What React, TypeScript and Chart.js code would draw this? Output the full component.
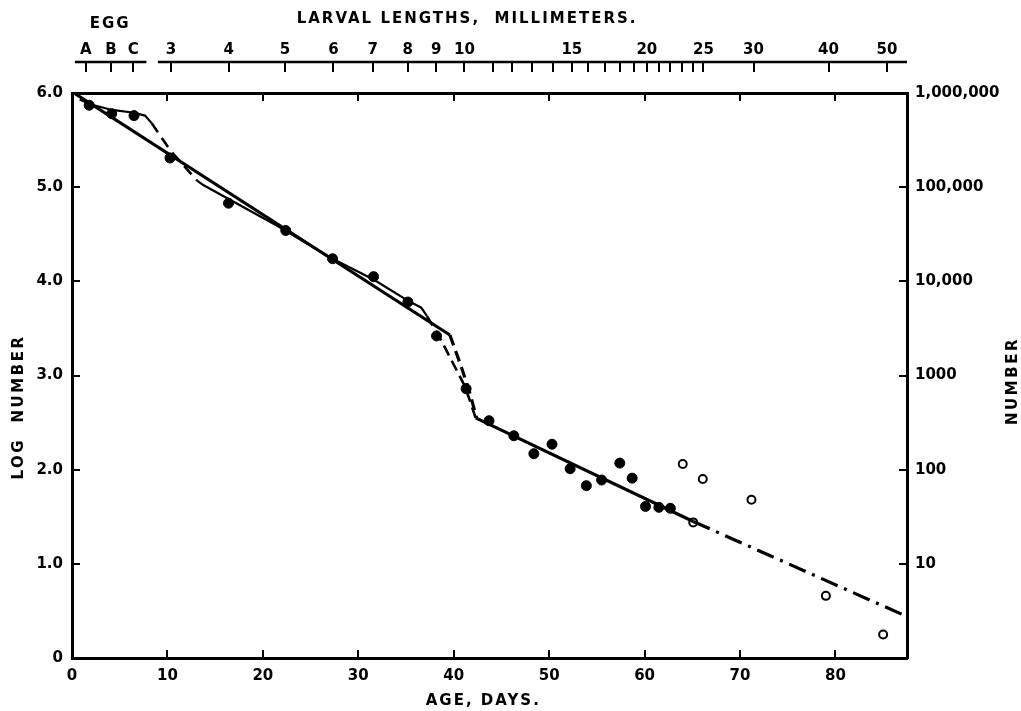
import React, { useEffect, useRef } from 'react';
import { Chart, registerables } from 'chart.js';

Chart.register(...registerables);

// ---------- data ----------
const X_MIN = 0;
const X_MAX = 87.5;
const dayTicks = [0, 10, 20, 30, 40, 50, 60, 70, 80];
const borderDayTicks = [10, 20, 30, 40, 50, 60, 70, 80];
const logTicks = [0, 1, 2, 3, 4, 5, 6];
const logLabels = ['0', '1.0', '2.0', '3.0', '4.0', '5.0', '6.0'];
const numberTicks = [1, 2, 3, 4, 5, 6];
const numberLabels = ['10', '100', '1000', '10,000', '100,000', '1,000,000'];

// larval length scale (age in days at which each length / egg stage is reached)
const larvalAges = [1.44, 4.09, 6.43, 10.38, 16.43, 22.33, 27.39, 31.52, 35.19, 38.16, 41.12,
  44.1, 46.12, 48.22, 50.45, 52.38, 54.02, 55.87, 57.44, 58.84, 60.24, 61.56, 62.68, 63.91,
  65.06, 66.17, 71.42, 79.28, 85.4];
const larvalLabels = ['A', 'B', 'C', '3', '4', '5', '6', '7', '8', '9', '10',
  '', '', '', '', '15', '', '', '', '', '20', '', '', '', '', '25', '30', '40', '50'];

// observations
const filledDays = [1.8, 4.16, 6.5, 10.27, 16.4, 22.4, 27.3, 31.6, 35.2, 38.2, 41.3, 43.7, 46.3,
  48.4, 50.3, 52.2, 53.9, 55.5, 57.4, 58.7, 60.1, 61.5, 62.7];
const filledLog = [5.87, 5.78, 5.76, 5.31, 4.83, 4.54, 4.24, 4.05, 3.78, 3.42, 2.86, 2.52, 2.36,
  2.17, 2.27, 2.01, 1.83, 1.89, 2.07, 1.91, 1.61, 1.6, 1.59];
const openDays = [64.0, 65.1, 66.1, 71.2, 79.0, 85.0];
const openLog = [2.06, 1.44, 1.9, 1.68, 0.66, 0.25];

// fitted straight line (heavy)
const fitDays = [0.2, 39.6];
const fitLog = [6.0, 3.43];
const fitDropDays = [39.6, 40.8, 41.7, 42.4];
const fitDropLog = [3.43, 3.09, 2.81, 2.55];
const lateDays = [42.3, 65.1];
const lateLog = [2.55, 1.45];
const extrapDays = [65.1, 87.5];
const extrapLog = [1.45, 0.44];

// free-hand curve (light)
const curveADays = [0.8, 1.9, 4.2, 6.5, 7.65, 8.35];
const curveALog = [5.93, 5.88, 5.82, 5.79, 5.76, 5.68];
const curveBDays = [8.35, 10.3, 11.7, 13.1];
const curveBLog = [5.68, 5.39, 5.23, 5.07];
const curveCDays = [13.1, 13.8, 21.5, 27.3, 31.6, 35.1, 36.6, 37.2];
const curveCLog = [5.07, 5.02, 4.59, 4.24, 4.02, 3.8, 3.72, 3.63];
const curveDDays = [37.2, 38.4, 41.2, 42.3];
const curveDLog = [3.63, 3.43, 2.88, 2.55];

const zip = (xs: number[], ys: number[]) => xs.map((x, i) => ({ x, y: ys[i] }));

const FONT = '"DejaVu Sans", sans-serif';
const tickFont = { family: FONT, size: 15, weight: 'bold' as const };

const annotate = {
  id: 'annotate',
  afterDraw(chart: any) {
    const { ctx } = chart;
    const x2 = chart.scales.x2;
    const yLine = x2.bottom;
    ctx.save();
    ctx.strokeStyle = '#000';
    ctx.lineWidth = 2.5;
    const segs = [[0.3, 7.8], [9.0, 87.5]];
    segs.forEach(([a, b]) => {
      ctx.beginPath();
      ctx.moveTo(x2.getPixelForValue(a), yLine);
      ctx.lineTo(x2.getPixelForValue(b), yLine);
      ctx.stroke();
    });
    ctx.fillStyle = '#000';
    ctx.font = `bold 15px ${FONT}`;
    ctx.textAlign = 'center';
    ctx.textBaseline = 'middle';
    try { (ctx as any).letterSpacing = '2px'; } catch (e) {}
    ctx.fillText('EGG', x2.getPixelForValue(4.0), 24);
    ctx.fillText('LARVAL LENGTHS,  MILLIMETERS.', x2.getPixelForValue(41.4), 19);
    try { (ctx as any).letterSpacing = '2.5px'; } catch (e) {}
    ctx.save();
    ctx.translate(19, 407);
    ctx.rotate(-Math.PI / 2);
    ctx.fillText('LOG  NUMBER', 0, 0);
    ctx.restore();
    ctx.save();
    ctx.translate(1013, 381);
    ctx.rotate(-Math.PI / 2);
    ctx.fillText('NUMBER', 0, 0);
    ctx.restore();
    try { (ctx as any).letterSpacing = '2px'; } catch (e) {}
    ctx.fillText('AGE, DAYS.', chart.scales.x.getPixelForValue(43.1), 701);
    ctx.restore();
  },
};

export default function App() {
  const ref = useRef<HTMLCanvasElement | null>(null);
  useEffect(() => {
    if (!ref.current) return;
    const lineDs = (xs: number[], ys: number[], width: number, dash: number[]) => ({
      type: 'line' as const,
      data: zip(xs, ys),
      borderColor: '#000',
      borderWidth: width,
      borderDash: dash,
      pointRadius: 0,
      fill: false,
      tension: 0,
      xAxisID: 'x',
      yAxisID: 'y',
    });
    const chart = new Chart(ref.current, {
      type: 'scatter',
      data: {
        datasets: [
          lineDs(fitDays, fitLog, 3.2, []),
          lineDs(fitDropDays, fitDropLog, 3.2, [11, 6]),
          lineDs(lateDays, lateLog, 3.2, []),
          lineDs(extrapDays, extrapLog, 3.2, [18, 7, 3, 7]),
          lineDs(curveADays, curveALog, 2.2, []),
          lineDs(curveBDays, curveBLog, 2.6, [11, 7]),
          lineDs(curveCDays, curveCLog, 2.2, []),
          lineDs(curveDDays, curveDLog, 2.6, [11, 6]),
          {
            type: 'scatter' as const,
            data: zip(filledDays, filledLog),
            pointRadius: 5,
            pointBackgroundColor: '#000',
            pointBorderColor: '#000',
            pointBorderWidth: 1,
            xAxisID: 'x',
            yAxisID: 'y',
          },
          {
            type: 'scatter' as const,
            data: zip(openDays, openLog),
            pointRadius: 4,
            pointBackgroundColor: '#fff',
            pointBorderColor: '#000',
            pointBorderWidth: 2,
            xAxisID: 'x',
            yAxisID: 'y',
          },
        ] as any,
      },
      options: {
        responsive: false,
        animation: false,
        layout: { padding: 0 },
        plugins: { legend: { display: false }, tooltip: { enabled: false } },
        scales: {
          x: {
            type: 'linear',
            position: 'bottom',
            min: X_MIN,
            max: X_MAX,
            afterBuildTicks: (s: any) => { s.ticks = dayTicks.map((v) => ({ value: v })); },
            afterFit: (s: any) => { s.height = 53; },
            ticks: { color: '#000', font: tickFont, padding: 17, maxRotation: 0, autoSkip: false, callback: (v: any) => String(v) },
            grid: { drawOnChartArea: false, tickLength: -8, color: '#000', lineWidth: 2 },
            border: { display: true, color: '#000', width: 3 },
            title: { display: false },
          },
          x3: {
            type: 'linear',
            position: 'top',
            weight: 0,
            min: X_MIN,
            max: X_MAX,
            afterBuildTicks: (s: any) => { s.ticks = borderDayTicks.map((v) => ({ value: v })); },
            afterFit: (s: any) => { s.height = 31; },
            ticks: { display: false },
            grid: { drawOnChartArea: false, tickLength: -8, color: '#000', lineWidth: 2 },
            border: { display: true, color: '#000', width: 3 },
          },
          x2: {
            type: 'linear',
            position: 'top',
            weight: 10,
            min: X_MIN,
            max: X_MAX,
            afterBuildTicks: (s: any) => { s.ticks = larvalAges.map((v) => ({ value: v })); },
            afterFit: (s: any) => { s.height = 62; },
            ticks: {
              color: '#000', font: tickFont, padding: 13, maxRotation: 0, autoSkip: false,
              callback: (_v: any, i: number) => larvalLabels[i],
            },
            grid: { drawOnChartArea: false, tickLength: -10, color: '#000', lineWidth: 2 },
            border: { display: false },
          },
          y: {
            type: 'linear',
            position: 'left',
            min: 0,
            max: 6,
            afterBuildTicks: (s: any) => { s.ticks = logTicks.map((v) => ({ value: v })); },
            afterFit: (s: any) => { s.width = 72; },
            ticks: { color: '#000', font: tickFont, padding: 17, callback: (_v: any, i: number) => logLabels[i] },
            grid: { drawOnChartArea: false, tickLength: -8, color: '#000', lineWidth: 2 },
            border: { display: true, color: '#000', width: 3 },
          },
          y2: {
            type: 'linear',
            position: 'right',
            min: 0,
            max: 6,
            afterBuildTicks: (s: any) => { s.ticks = numberTicks.map((v) => ({ value: v })); },
            afterFit: (s: any) => { s.width = 114; },
            ticks: { color: '#000', font: tickFont, padding: 16, callback: (_v: any, i: number) => numberLabels[i] },
            grid: { drawOnChartArea: false, tickLength: -8, color: '#000', lineWidth: 2 },
            border: { display: true, color: '#000', width: 3 },
          },
        },
      } as any,
      plugins: [annotate],
    });
    return () => chart.destroy();
  }, []);
  return (
    <div style={{ position: 'absolute', left: 0, top: 0, width: 1021, height: 711, background: '#fff' }}>
      <canvas ref={ref} width={1021} height={711} style={{ display: 'block' }} />
    </div>
  );
}
